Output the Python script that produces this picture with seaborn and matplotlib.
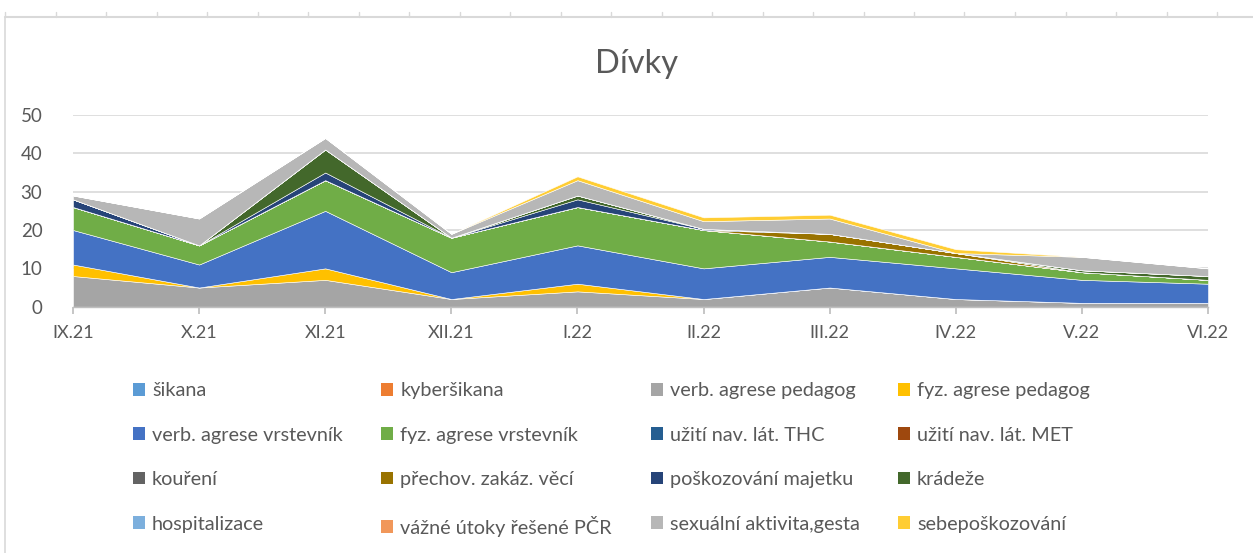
import numpy as np
import matplotlib
matplotlib.use("Agg")
import matplotlib.pyplot as plt
from matplotlib.patches import Patch
from matplotlib.lines import Line2D
import seaborn as sns

# ==========================================
# DATA
# ==========================================
months = ["IX.21", "X.21", "XI.21", "XII.21", "I.22", "II.22", "III.22", "IV.22", "V.22", "VI.22"]

sikana            = [0, 0, 0, 0, 0, 0, 0, 0, 0, 0]
kybersikana       = [0, 0, 0, 0, 0, 0, 0, 0, 0, 0]
verb_pedagog      = [8, 5, 7, 2, 4, 2, 5, 2, 1, 1]
fyz_pedagog       = [3, 0, 3, 0, 2, 0, 0, 0, 0, 0]
verb_vrstevnik    = [9, 6, 15, 7, 10, 8, 8, 8, 6, 5]
fyz_vrstevnik     = [6, 5, 8, 9, 10, 10, 4, 3, 2, 1]
thc               = [0, 0, 0, 0, 0, 0, 0, 0, 0, 0]
met               = [0, 0, 0, 0, 0, 0, 0, 0, 0, 0]
koureni           = [0, 0, 0, 0, 0, 0, 0, 0, 0, 0]
prechov           = [0, 0, 0, 0, 0, 0, 2, 1, 0, 0]
poskozovani       = [2, 0, 2, 0, 2, 0.3, 0, 0, 0, 0]
kradeze           = [0, 0, 6, 0, 1, 0, 0, 0, 0.5, 1]
hospitalizace     = [0, 0, 0, 0, 0, 0, 0, 0, 0, 0]
vazne_utoky       = [0, 0, 0, 0, 0, 0, 0, 0, 0, 0]
sexualni          = [1, 7, 3, 1, 4, 2, 4, 0, 3.5, 2]
sebeposkozovani   = [0, 0, 0, 0, 1, 1, 1, 1, 0, 0]

labels = ["šikana", "kyberšikana", "verb. agrese pedagog", "fyz. agrese pedagog",
          "verb. agrese vrstevník", "fyz. agrese vrstevník", "užití nav. lát. THC", "užití nav. lát. MET",
          "kouření", "přechov. zakáz. věcí", "poškozování majetku", "krádeže",
          "hospitalizace", "vážné útoky řešené PČR", "sexuální aktivita,gesta", "sebepoškozování"]
series = [sikana, kybersikana, verb_pedagog, fyz_pedagog,
          verb_vrstevnik, fyz_vrstevnik, thc, met,
          koureni, prechov, poskozovani, kradeze,
          hospitalizace, vazne_utoky, sexualni, sebeposkozovani]
colors = ["#5B9BD5", "#ED7D31", "#A5A5A5", "#FFC000",
          "#4472C4", "#70AD47", "#255E91", "#9E480E",
          "#636363", "#997300", "#264478", "#43682B",
          "#7CAFDD", "#F1975A", "#B7B7B7", "#FFCD33"]

# ==========================================
# STYL
# ==========================================
sns.set_theme(style="white")
plt.rcParams['font.family'] = ['Lato', 'DejaVu Sans']
text_col = "#595959"
grid_col = "#D9D9D9"

fig = plt.figure(figsize=(12.53, 5.53), dpi=100)
ax = fig.add_axes([73 / 1253, 1 - 306.7 / 553, (1208 - 73) / 1253, (306.7 - 115) / 553])

x = np.arange(len(months))
ax.stackplot(x, *series, colors=colors, labels=labels, linewidth=0.4, edgecolor="white")

ax.set_xlim(0, len(months) - 1)
ax.set_ylim(0, 50)
ax.set_yticks([0, 10, 20, 30, 40, 50])
ax.set_xticks(x)
ax.set_xticklabels(months)
ax.grid(axis="y", color=grid_col, linewidth=1.2)
ax.set_axisbelow(True)
for s in ["top", "right", "left"]:
    ax.spines[s].set_visible(False)
ax.spines["bottom"].set_color("#BFBFBF")
ax.spines["bottom"].set_linewidth(1.0)
ax.spines["bottom"].set_zorder(5)
ax.tick_params(axis="x", bottom=True, length=5, color="#BFBFBF", labelsize=13, labelcolor=text_col, pad=8)
ax.tick_params(axis="y", left=False, labelsize=13.5, labelcolor=text_col, pad=16)

fig.text(0.508, 0.885, "Dívky", ha="center", va="center", fontsize=23.5, color=text_col)

# legenda po řádcích (Excel styl)
handles = [Patch(facecolor=c, edgecolor="none") for c in colors]
order = [r * 4 + c for c in range(4) for r in range(4)]
fig.legend([handles[i] for i in order], [labels[i] for i in order],
           loc="upper center", bbox_to_anchor=(0.488, 0.341), ncol=4, frameon=False,
           fontsize=14.3, labelcolor=text_col, handlelength=0.6, handleheight=0.6,
           handletextpad=0.35, columnspacing=1.95, labelspacing=1.38)

# okraj listu (mřížka Excelu)
fig.add_artist(Line2D([5 / 1253, 1], [1 - 17 / 553] * 2, color=grid_col, linewidth=1.5))
fig.add_artist(Line2D([5 / 1253] * 2, [0, 1 - 17 / 553], color=grid_col, linewidth=1.2))
for k in range(25):
    px = 5 + 50.5 * k
    fig.add_artist(Line2D([px / 1253] * 2, [1 - 17 / 553, 1 - 12 / 553], color=grid_col, linewidth=1))

plt.savefig("out.png", dpi=100)
